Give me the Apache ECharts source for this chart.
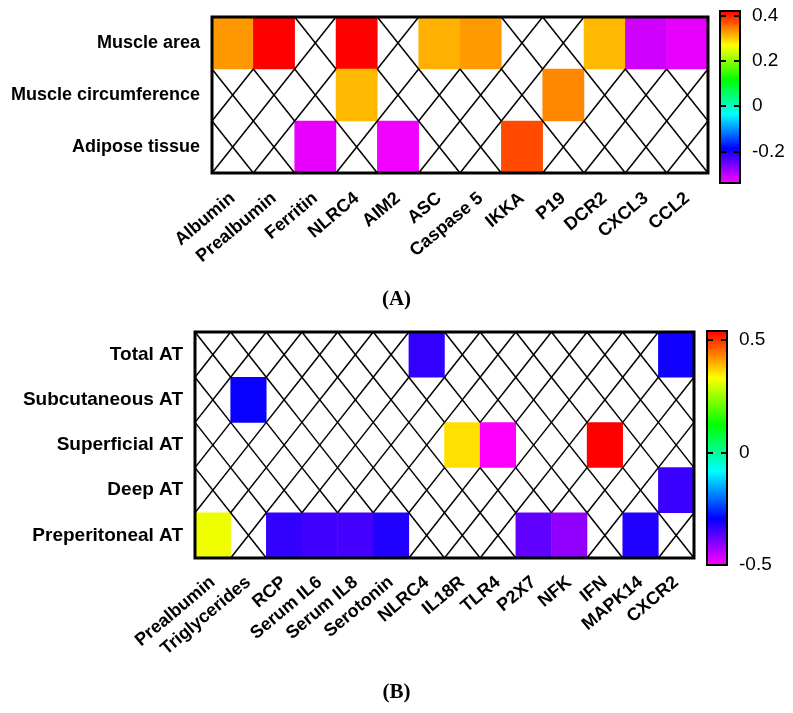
<!DOCTYPE html>
<html>
<head>
<meta charset="utf-8">
<script src="https://cdn.jsdelivr.net/npm/echarts@6/dist/echarts.min.js"></script>
<style>html,body{margin:0;padding:0;background:#fff}#c{width:793px;height:713px}</style>
</head>
<body>
<div id="c"></div>
<script>
// ---------- Panel A ----------
const colsA = ['Albumin','Prealbumin','Ferritin','NLRC4','AIM2','ASC','Caspase 5','IKKA','P19','DCR2','CXCL3','CCL2'];
const rowsA = ['Muscle area','Muscle circumference','Adipose tissue'];
const muscleArea          = [0.33, 0.42, null, 0.42, null, 0.315, 0.328, null, null, 0.31, -0.312, -0.326];
const muscleCircumference = [null, null, null, 0.31, null, null, null, null, 0.339, null, null, null];
const adiposeTissue       = [null, null, -0.326, null, -0.331, null, null, 0.376, null, null, null, null];
const rangeA = [-0.34, 0.42];
const ticksA = [-0.2, 0, 0.2, 0.4];

// ---------- Panel B ----------
const colsB = ['Prealbumin','Triglycerides','RCP','Serum IL6','Serum IL8','Serotonin','NLRC4','IL18R','TLR4','P2X7','NFK','IFN','MAPK14','CXCR2'];
const rowsB = ['Total AT','Subcutaneous AT','Superficial AT','Deep AT','Preperitoneal AT'];
const totalAT         = [null, null, null, null, null, null, -0.334, null, null, null, null, null, null, -0.305];
const subcutaneousAT  = [null, -0.30, null, null, null, null, null, null, null, null, null, null, null, null];
const superficialAT   = [null, null, null, null, null, null, null, 0.357, -0.5, null, null, 0.54, null, null];
const deepAT          = [null, null, null, null, null, null, null, null, null, null, null, null, null, -0.339];
const preperitonealAT = [0.32, null, -0.332, -0.344, -0.347, -0.318, null, null, null, -0.37, -0.41, null, -0.318, null];
const rangeB = [-0.5, 0.54];
const ticksB = [-0.5, 0, 0.5];

const rainbow = ['#FF00FF','#0000FF','#00FFFF','#00FF00','#FFFF00','#FF0000'];

function build(rows) {
  const filled = [], empty = [];
  rows.forEach((r, yi) => r.forEach((v, xi) => {
    if (v === null) empty.push([xi, yi]); else filled.push([xi, yi, v]);
  }));
  return {filled, empty};
}
const A = build([muscleArea, muscleCircumference, adiposeTissue]);
const B = build([totalAT, subcutaneousAT, superficialAT, deepAT, preperitonealAT]);

function crossRender(params, api) {
  const c = api.coord([api.value(0), api.value(1)]);
  const s = api.size([1, 1]);
  const x0 = c[0] - s[0] / 2, x1 = c[0] + s[0] / 2;
  const y0 = c[1] - s[1] / 2, y1 = c[1] + s[1] / 2;
  const st = {stroke: '#000', lineWidth: 1.5};
  return {type: 'group', children: [
    {type: 'line', shape: {x1: x0, y1: y0, x2: x1, y2: y1}, style: st},
    {type: 'line', shape: {x1: x0, y1: y1, x2: x1, y2: y0}, style: st}
  ]};
}

const font = 'Liberation Sans, Arial, sans-serif';
const catLabel = {color: '#000', fontWeight: 'bold', fontSize: 18, fontFamily: font};

const gridA = {left: 212, top: 17, width: 496, height: 156};
const gridB = {left: 195, top: 332, width: 499, height: 226};
const barA = {left: 720, top: 11, width: 20, height: 172};
const barB = {left: 707, top: 331, width: 20, height: 234};

function mkGrid(g, border) {
  return Object.assign({show: true, borderColor: '#000', borderWidth: border, backgroundColor: 'transparent', containLabel: false, z: 10}, g);
}
function caption(letter, top) {
  return {text: '{p|(}{b|' + letter + '}{p|)}', left: 'center', top: top, textStyle: {rich: {
    p: {fontFamily: 'Liberation Serif, Times New Roman, serif', fontSize: 21, color: '#000'},
    b: {fontFamily: 'Liberation Serif, Times New Roman, serif', fontSize: 21, fontWeight: 'bold', color: '#000'}}}};
}

const option = {
  animation: false,
  backgroundColor: '#fff',
  title: [caption('A', 284), caption('B', 677)],
  grid: [mkGrid(gridA, 3), mkGrid(gridB, 3), mkGrid(barA, 2), mkGrid(barB, 2)],
  xAxis: [
    {type: 'category', gridIndex: 0, data: colsA, axisLine: {show: false}, axisTick: {show: false}, splitLine: {show: false},
      axisLabel: Object.assign({rotate: 40, interval: 0, margin: 23}, catLabel)},
    {type: 'category', gridIndex: 1, data: colsB, axisLine: {show: false}, axisTick: {show: false}, splitLine: {show: false},
      axisLabel: Object.assign({rotate: 40, interval: 0, margin: 22}, catLabel)},
    {type: 'value', gridIndex: 2, show: false},
    {type: 'value', gridIndex: 3, show: false}
  ],
  yAxis: [
    {type: 'category', gridIndex: 0, data: rowsA, inverse: true, axisLine: {show: false}, axisTick: {show: false}, splitLine: {show: false},
      axisLabel: Object.assign({margin: 12}, catLabel)},
    {type: 'category', gridIndex: 1, data: rowsB, inverse: true, axisLine: {show: false}, axisTick: {show: false}, splitLine: {show: false},
      axisLabel: Object.assign({margin: 12}, catLabel, {fontSize: 19})},
    // colorbar A axes
    {type: 'value', gridIndex: 2, position: 'left', min: rangeA[0], max: rangeA[1], z: 10,
      axisLine: {show: false}, splitLine: {show: false}, axisLabel: {show: false},
      axisTick: {show: true, inside: true, length: 6, lineStyle: {color: '#000', width: 2}, customValues: ticksA}},
    {type: 'value', gridIndex: 2, position: 'right', min: rangeA[0], max: rangeA[1], z: 10,
      axisLine: {show: false}, splitLine: {show: false},
      axisTick: {show: true, inside: true, length: 6, lineStyle: {color: '#000', width: 2}, customValues: ticksA},
      axisLabel: {show: true, margin: 12, color: '#000', fontSize: 19, fontFamily: font, customValues: ticksA,
        formatter: v => String(Math.round(v * 10) / 10)}},
    // colorbar B axes
    {type: 'value', gridIndex: 3, position: 'left', min: rangeB[0], max: rangeB[1], z: 10,
      axisLine: {show: false}, splitLine: {show: false}, axisLabel: {show: false},
      axisTick: {show: true, inside: true, length: 6, lineStyle: {color: '#000', width: 2}, customValues: [0, 0.5]}},
    {type: 'value', gridIndex: 3, position: 'right', min: rangeB[0], max: rangeB[1], z: 10,
      axisLine: {show: false}, splitLine: {show: false},
      axisTick: {show: true, inside: true, length: 6, lineStyle: {color: '#000', width: 2}, customValues: [0, 0.5]},
      axisLabel: {show: true, margin: 12, color: '#000', fontSize: 19, fontFamily: font, customValues: ticksB,
        formatter: v => String(Math.round(v * 10) / 10)}}
  ],
  visualMap: [
    {type: 'continuous', seriesIndex: 0, min: rangeA[0], max: rangeA[1], calculable: false, hoverLink: false,
      orient: 'vertical', left: barA.left, top: barA.top, itemWidth: barA.width, itemHeight: barA.height,
      padding: 0, z: 1, inRange: {color: rainbow}},
    {type: 'continuous', seriesIndex: 2, min: rangeB[0], max: rangeB[1], calculable: false, hoverLink: false,
      orient: 'vertical', left: barB.left, top: barB.top, itemWidth: barB.width, itemHeight: barB.height,
      padding: 0, z: 1, inRange: {color: rainbow}}
  ],
  series: [
    {type: 'heatmap', xAxisIndex: 0, yAxisIndex: 0, data: A.filled, emphasis: {disabled: true}},
    {type: 'custom', xAxisIndex: 0, yAxisIndex: 0, data: A.empty, renderItem: crossRender, silent: true, z: 3},
    {type: 'heatmap', xAxisIndex: 1, yAxisIndex: 1, data: B.filled, emphasis: {disabled: true}},
    {type: 'custom', xAxisIndex: 1, yAxisIndex: 1, data: B.empty, renderItem: crossRender, silent: true, z: 3}
  ]
};

const chart = echarts.init(document.getElementById('c'), null, {renderer: 'canvas'});
chart.setOption(option);
</script>
</body>
</html>
